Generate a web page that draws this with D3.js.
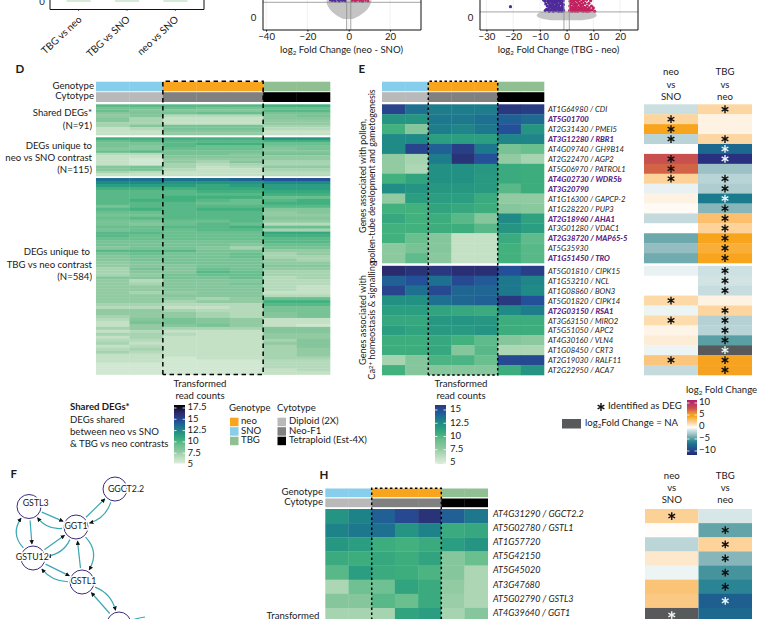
<!DOCTYPE html>
<html><head><meta charset="utf-8">
<script src="https://cdn.jsdelivr.net/npm/d3@7"></script>
<style>
html,body{margin:0;padding:0;background:#fff;overflow:hidden}
svg{display:block}
text{font-family:Lato,"Open Sans",sans-serif;fill:#1a1a1a}
</style></head><body><div id="c"></div>
<script>
// ---------- DATA ----------
const samples=['SNO1','SNO2','neo1','neo2','neo3','TBG1','TBG2'];
const sampleGenotype=['SNO','SNO','neo','neo','neo','TBG','TBG'];
const sampleCytotype=['Diploid (2X)','Diploid (2X)','Neo-F1','Neo-F1','Neo-F1','Tetraploid (Est-4X)','Tetraploid (Est-4X)'];
const genotypeNames=['neo','SNO','TBG'];
const cytotypeNames=['Diploid (2X)','Neo-F1','Tetraploid (Est-4X)'];
const countTicksD=[5,7.5,10,12.5,15,17.5];
const countTicksE=[5,7.5,10,12.5,15];
const fcTicks=[-10,-5,0,5,10];

const dShared=[
[9.5,9.5,9.5,9.5,9.5,10,10],[8.5,8.5,9,8.5,8.5,9,9],[9,8,8,8,8,9.5,9.5],[8,8.3,8.5,9,9,8.5,8.5],
[7.5,8,6.5,6.5,6.5,8,8.5],[8,7,6,6,6,8,8],[8,7,6,6,6,7.5,7.5],[7,7,6,6,6,7.5,7.5],
[7,8,8.5,8.5,8.5,7,7],[6,6.5,8.5,8.5,8.5,6.5,6.5],[6,6,8,8,8,6,6],[6,6,7.5,7.5,7.5,6,6]];
const dNeoSno=[
[10,10,10,10,10,11.5,11.5],[9,9.5,9.5,9.5,9.5,10,10],[8.5,8.5,9.5,10,10,9,9],[8.5,8,9.5,9,9,8.5,8.5],
[8,8,9,9,9,8,8.5],[9,9.5,8.5,8.5,8.5,8,8],[6.5,6.5,8.5,8.5,8,8.5,8.5],[6,6,8,8,8,7.5,7.5],
[6,5.5,7.5,7.5,7.5,7.5,7.5],[6,5.5,7.5,7,8,7,7],[6,5.5,7,6.5,7,7,7],[8,8.5,7,6,6.5,7.5,7.5],
[8,8.5,6.5,6,6,7,7],[7,6.5,6,6,6,6.5,6.5],[6,6,6,6,6,6.5,6.5]];
const dTbgNeo=[
[13,13,13,13,13.5,14,14],[12,12,11.5,11.5,11.5,12,12],[11,11,11,10.5,11,11,11],[10,10,10,10.5,10.5,11,11],
[9.5,9.5,9.5,10,10,10.5,10.5],[9.5,9.5,9.5,9.5,9.5,10,10],[9.5,9.5,10,10,10,9,9],[9.5,10,10,9.5,9,9.5,10],
[9.5,9.5,9.5,9,9,10,10],[8.5,9.5,9.5,9.5,9.5,9.5,9.5],[9.5,10,9.5,10,10,8,8],[9,9,9.5,9.5,9.5,7.5,8],
[8.5,8.5,9.5,9.5,9.5,7.5,7.5],[9,9.5,9.5,9.5,9.5,8,8],[8.5,8.5,9,9,9.5,7.5,7.5],[8.5,8,9,9.5,9,6.5,6.5],
[9,9,9.5,9.5,10,9,9],[8.5,9,9,9.5,9.5,7,7],[9.5,9.5,9,9,9,10.5,10.5],[9.5,9,9,9,9,10,10],
[9,9,9,9,9,9.5,9.5],[8.5,8.5,8.5,8.5,8.5,9.5,9.5],[8.5,8.5,8.5,8.5,8,9,9],[8,8.5,8.5,8,7,8.5,8.5],
[9.5,9.5,9.5,8.5,8.5,7.5,7.5],[8.5,9,8.5,8.5,9,7,7.5],[8,8.5,8.5,8.5,9,7,7],[8,8.5,8.5,8.5,8.5,7.5,7],
[7.5,8,8.5,8.5,8.5,7.5,7.5],[7.5,8,8,8.5,8.5,8,8],[7,8.5,8,9,8.5,7.5,7.5],[7,8,8,9.5,9,7,7],
[7,7.5,8.5,9,9,7,7],[8,8,8.5,8.5,9,6.5,7],[7.5,6.5,8,8,8,6.5,6.5],[7.5,7,8,8,8.5,6.5,6.5],
[7.5,7.5,8,8,8,6.5,6],[7.5,7.5,8,8,8,6.5,6],[7.5,7,7.5,8,8,6,6],[7.5,7.5,8,8,8,6.5,6.5],
[7.5,7.5,7.5,7,7.5,9,9],[7.5,7.5,7,7.5,7.5,10,10],[7,7,6.5,6.5,6.5,9.5,9.5],[6.5,6.5,6,6,6.5,8.5,8.5],
[7.5,7.5,7,6.5,6.5,8.5,8.5],[7.5,7.5,7.5,7,6.5,8,8.5],[7,7.5,7.5,7,6.5,8,8.5],[6.5,8,8.5,8,7.5,6,6],
[6,8.5,8.5,8,7.5,6,6],[6,7.5,8,8.5,7.5,6,5.5],[7,7.5,7,7,7,8,8],[6,6.5,6,6,6,8,8],
[7,7,6.5,6,6,7.5,7.5],[6,7,6,6,6,7.5,7.5],[6.5,6.5,6,6,6,7,8],[7,6,6,6,6,7.5,8],
[6,6.5,6,6,6,7,8],[6.5,7,6,6,6,7,7.5],[7,6.5,6,6,6,7,7.5],[6,6,6,6,6,7,7.5],
[6,6,5.5,6,6,7,7],[6,6,5.5,5.5,5.5,6.5,6.5],[5.5,5.5,5.5,5.5,5.5,6.5,6.5],[5.5,5.5,5.5,5.5,5.5,6.5,6.5],
[5.5,5.5,5.5,5.5,5.5,6,6.5],[5.5,5.5,5.5,5.5,5.5,6,6]];

const genesPollen=['AT1G64980 / CDI','AT5G01700','AT2G31430 / PMEI5','AT3G12280 / RBR1','AT4G09740 / GH9B14','AT2G22470 / AGP2','AT5G06970 / PATROL1','AT4G02730 / WDR5b','AT3G20790','AT1G16300 / GAPCP-2','AT1G28220 / PUP3','AT2G18960 / AHA1','AT3G01280 / VDAC1','AT2G38720 / MAP65-5','AT5G35930','AT1G51450 / TRO'];
const genesCalcium=['AT5G01810 / CIPK15','AT1G53210 / NCL','AT1G08860 / BON3','AT5G01820 / CIPK14','AT2G03150 / RSA1','AT3G63150 / MIRO2','AT5G51050 / APC2','AT4G30160 / VLN4','AT1G08450 / CRT3','AT2G19030 / RALF11','AT2G22950 / ACA7'];
const genesGsh=['AT4G31290 / GGCT2.2','AT5G02780 / GSTL1','AT1G57720','AT5G42150','AT5G45020','AT3G47680','AT5G02790 / GSTL3','AT4G39640 / GGT1'];
const boldGenes=['AT5G01700','AT3G12280 / RBR1','AT4G02730 / WDR5b','AT3G20790','AT2G18960 / AHA1','AT2G38720 / MAP65-5','AT1G51450 / TRO','AT2G03150 / RSA1'];

const ePollen=[
[14.5,13,12.5,12.5,12.5,15,14.8],[11.5,11.5,12.7,12.7,13,13.5,13.2],[10,8,12.5,12.2,12.7,14,11.5],[12,12,11,11,11,12.2,12.2],
[12,14.5,13.5,14.7,12.7,8.5,9],[7.5,7,12.5,15.3,14,7.5,7],[7.5,6.8,11.7,11.7,11.3,10.3,10.2],[10,10.7,11.7,11.7,11.2,10.3,10.2],
[11.8,11.5,11.3,11.3,11.2,9.5,10.2],[7.5,11,11,11,10.3,7.5,7.5],[10,10,10.7,10.5,10.2,8,7.8],[10.5,10,10.2,9.5,8,12,10.8],
[10,10,10.2,10.2,9.5,11.5,11],[10,9,8,6,6,10.3,9.3],[7.7,8.5,8,6,6,10,9.5],[7.7,9.3,7.8,6,6,10,9.5]];
const eCalcium=[
[15.7,15.3,15,15.5,15.5,14,14.7],[13.5,14,13,14.3,13.7,12.7,12.2],[14.5,13,14.3,13.3,13.3,12.7,12],[11.7,11.7,13,13.3,13.5,15,14],
[11,11,10.7,10.5,10.3,12,12.5],[10.5,10.5,11.3,11.5,11.3,10.2,10.2],[11,10.7,11.2,11.2,11.5,10.2,10.2],[10.2,10.2,10.5,10,9.3,8,7.7],
[10.2,10.2,10.5,8,9.5,6.8,6.8],[7,8,9.8,9.8,9,14.3,14.3],[10,8,8,8,8,10.2,11.5]];
const hCounts=[
[11.5,12.3,13.5,14.3,15.3,13.5,12.7],[12.3,12.7,13,11.5,12.3,10.3,10.5],[11.3,11,10.2,10,10.3,11,11.5],[10.3,10.2,10.5,10.2,10.7,8,9],
[9.5,11,10.3,10.2,9.8,8,6.8],[6.8,8.8,8.8,10.7,10.3,7.5,6.8],[8,8,9.5,9,10.3,7.3,6.8],[7,7,7,10.7,11,7,8]];

const contrasts=['neo vs SNO','TBG vs neo'];
const fcPollen=[[-1.2,1.6],[1.7,.5],[4,.5],[-1.7,1.6],[0,-6.5],[7,-9.5],[6.5,-2.5],[1.8,-1.7],[-.5,-2],[.5,-5.5],[.2,-3],[-1.4,2.8],[0,1.8],[-3.6,4],[-2.7,3.6],[-3.5,4]];
const fcCalcium=[[-.5,-1.1],[0,-1],[0,-1.3],[1.5,.5],[-.4,1.7],[1.4,-1.8],[.4,-1.7],[.7,-4],[-.4,null],[2.5,4.2],[-1.4,4.3]];
const fcGsh=[[1.9,-.9],[.1,-3.8],[-1.6,1.8],[.9,-3],[-.4,-4.5],[2.6,-5.1],[2.3,-7],[null,-6.5]];
const degPollen=[[0,1],[1,0],[1,0],[1,1],[0,1],[1,1],[1,0],[1,1],[0,1],[0,1],[0,1],[0,1],[0,1],[0,1],[0,1],[0,1]];
const degCalcium=[[0,1],[0,1],[0,1],[1,0],[0,1],[1,1],[0,1],[0,1],[0,1],[1,1],[0,1]];
const degGsh=[[1,0],[0,1],[0,1],[0,1],[0,1],[0,1],[0,1],[1,0]];

const volcanoCategories=['TBG vs neo','TBG vs SNO','neo vs SNO'];
const volcano1Ticks=[-40,-20,0,20];
const volcano2Ticks=[-30,-20,-10,0,10,20];
// grey envelope: [-log10 p, lowest fold change, highest fold change]
const v1Grey=[[0.1,-2.5,2],[0.4,-6.5,6],[0.8,-9.5,9.5],[1.3,-11,11],[1.45,-10.5,11]];
const v2Grey=[[0.05,-6,6],[0.2,-9,9],[0.5,-11,11],[0.9,-11.5,11.5],[1.3,-9.5,10]];
const v1Down=[[-8,1.4],[-7,1.42],[-6.5,1.38],[-5.3,1.45],[-4.6,1.36],[-4,1.44],[-3,1.4],[-2.3,1.46],[-1.6,1.38],[-9,1.44],[-3.6,1.5]];
const v1Up=[[1.5,1.4],[2.4,1.45],[3.2,1.38],[4,1.44],[5.2,1.4],[5.9,1.46],[7,1.38],[8.2,1.42],[9.4,1.38],[3,1.5],[6.4,1.36]];
const v2Down=[[-21,2.1],[-8.6,3.1],[-8,2.9],[-7.8,2.5],[-8,1.5],[-7.5,1.7],[-7.2,2.2],[-7,3],[-6.8,2.7],[-6.6,1.9],[-6.5,1.4],[-6.3,2.4],[-6,3.1],[-6,2.1],[-5.8,1.6],[-5.5,2.8],[-5.4,1.9],[-5.2,2.4],[-5,3.2],[-5,1.4],[-4.8,2.1],[-4.6,2.7],[-4.4,1.7],[-4.2,3],[-4.1,2.3],[-4,1.5],[-3.8,2],[-3.6,2.6],[-3.4,3.2],[-3.3,1.8],[-3.1,2.3],[-3,1.4],[-2.8,2.9],[-2.7,2],[-2.5,1.6],[-2.4,2.5],[-2.2,3.1],[-2,1.9],[-1.9,1.4],[-1.8,2.6],[-1.6,2.2],[-1.5,1.7],[-1.3,3],[-1.2,2.4],[-1.1,1.5],[-5.7,2.4],[-4.7,1.7],[-3.5,2.9],[-6.9,1.6],[-2.1,2.7],[-1.4,1.9],[-3.9,2.8],[-4.9,3],[-6.2,2.9]];
const v2Up=[[1.1,1.5],[1.2,2.2],[1.3,2.9],[1.5,1.8],[1.6,2.5],[1.8,3.2],[1.9,1.4],[2.1,2],[2.2,2.8],[2.4,1.6],[2.6,2.4],[2.7,3],[2.9,1.9],[3.1,1.4],[3.2,2.6],[3.4,2.1],[3.6,3.1],[3.7,1.7],[3.9,2.4],[4.1,1.4],[4.2,2.9],[4.4,2],[4.6,1.6],[4.8,2.6],[4.9,3.2],[5.1,1.9],[5.3,2.3],[5.4,1.5],[5.6,2.8],[5.8,1.8],[6,2.4],[6.2,1.4],[6.3,3],[6.5,2],[6.7,1.6],[6.9,2.6],[7.1,1.9],[7.3,1.4],[7.5,3.1],[7.7,2.2],[7.9,1.7],[8.1,1.4],[8.3,2.6],[8.5,1.9],[8.8,1.5],[9,3],[9.3,2.2],[9.6,1.6],[10,1.9],[10.5,1.4],[2.3,1.5],[3,2.3],[4.5,1.5],[5.5,2],[2,3.3],[3.3,1.7]];

const networkNodes=['GGCT2.2','GSTL3','GGT1','GSTU12','GSTL1',''];
const networkEdges=[
['GSTL3','GGT1',0],['GGT1','GSTL3',-9],['GSTL3','GSTU12',0],['GSTU12','GSTL3',-13],
['GSTU12','GGT1',0],['GGT1','GSTU12',-9],['GGT1','GGCT2.2',0],['GGCT2.2','GGT1',-9],
['GSTU12','GSTL1',0],['GSTL1','GSTU12',-8],['GSTL1','GGT1',0],['GGT1','GSTL1',-13],
['GSTL1','',-9],['','GSTL1',0]];

// ---------- LAYOUT (pixels) ----------
const svg=d3.select('#c').append('svg').attr('width',768).attr('height',619).attr('viewBox','0 0 768 619');
const COL={SNO:'#87cdec',neo:'#f8a51d',TBG:'#90bf91','Diploid (2X)':'#b9b9b9','Neo-F1':'#808080','Tetraploid (Est-4X)':'#000'};
const countColor=d3.scaleLinear()
 .domain([5,6,7,7.5,9,9.5,10,11,12,13,14,15,16,17.5])
 .range(['#dcecdb','#c4e1c6','#a6d3b0','#92caa2','#6abf8f','#58b888','#42b17e','#2b9d80','#1f8a86','#1d7090','#24509a','#29387f','#2a2668','#000']);
const fcColor=d3.scaleLinear()
 .domain([-10,-9.5,-7,-5.5,-4,-2.5,-1,0,1.5,2.8,4,5,7,10])
 .range(['#1f2a6e','#29307f','#1f5f8f','#1a7a8e','#5a9fa3','#9cc2c6','#d2e3e4','#ffffff','#fdd9a8','#fbbf6d','#f8a51d','#f29a2a','#c8504f','#b01e6e']);

function txt(g,x,y,s,o={}){
  const t=g.append('text').attr('x',x).attr('y',y).attr('dominant-baseline','middle')
   .attr('font-size',o.size||9.6).attr('text-anchor',o.anchor||'start').text(s);
  if(o.bold)t.attr('font-weight',o.bold===true?700:o.bold);
  if(o.italic)t.attr('font-style','italic');
  if(o.fill)t.style('fill',o.fill);
  if(o.rot!=null)t.attr('transform',`rotate(${o.rot} ${x} ${y})`);
  return t;
}
function log2(g,x,y,rest,o={}){ // log2 text with subscript
  const t=g.append('text').attr('x',x).attr('y',y).attr('dominant-baseline','middle')
   .attr('font-size',o.size||9.6).attr('text-anchor',o.anchor||'start');
  t.append('tspan').text('log');
  t.append('tspan').attr('dy',2).attr('font-size',(o.size||9.6)*.65).text('2');
  t.append('tspan').attr('dy',-2).text(rest);
}
function headers(g,x,yGeno,yCyto,h1,h2){
  g.selectAll(null).data(samples).join('rect').attr('x',d=>x(d)).attr('y',yGeno).attr('width',x.bandwidth()+.3).attr('height',h1)
   .attr('fill',(d,i)=>COL[sampleGenotype[i]]);
  g.selectAll(null).data(samples).join('rect').attr('x',d=>x(d)).attr('y',yCyto).attr('width',x.bandwidth()+.3).attr('height',h2)
   .attr('fill',(d,i)=>COL[sampleCytotype[i]]);
}
function heat(g,x,rows,y0,y1){
  const y=d3.scaleBand(d3.range(rows.length),[y0,y1]);
  rows.forEach((r,i)=>{
    g.selectAll(null).data(r).join('rect').attr('x',(d,j)=>x(samples[j])).attr('y',y(i))
     .attr('width',x.bandwidth()+.3).attr('height',y.bandwidth()+.3).attr('fill',d=>countColor(d));
  });
  return y;
}
function dashed(g,x,y0,y1,w=1.5,dash='4.5 3.5'){
  const x0=x('neo1'),x1=x('neo3')+x.bandwidth();
  g.append('path').attr('d',`M${x0},${y1}V${y0}H${x1}V${y1}`+(y1<619?`H${x0}`:''))
   .attr('fill','none').attr('stroke','#000').attr('stroke-width',w).attr('stroke-dasharray',dash);
}
function star(g,x,y,fill,r=42){
  g.append('path').attr('d',d3.symbol(d3.symbolAsterisk,r)).attr('transform',`translate(${x},${y})`)
   .attr('fill','none').attr('stroke',fill).attr('stroke-width',1.4);
}
function fcHeat(g,x,y,vals,degs){
  vals.forEach((r,i)=>{
    contrasts.forEach((c,j)=>{
      const v=r[j];
      g.append('rect').attr('x',x(c)).attr('y',y(i)).attr('width',x.bandwidth()).attr('height',y.bandwidth()+.3)
       .attr('fill',v==null?'#58595b':fcColor(v));
      if(degs[i][j]) star(g,x(c)+x.bandwidth()/2,y(i)+y.bandwidth()/2,(v==null||v<-5.2)?'#e8f2f4':'#111');
    });
  });
}
function geneLabels(g,xp,y,genes,size,dy){
  genes.forEach((s,i)=>{
    const b=boldGenes.includes(s);
    txt(g,xp,y(i)+y.bandwidth()/2+dy,s,{size:size,italic:true,bold:b?900:false,fill:b?'#5a2a86':'#222'});
  });
}
function colorBar(g,id,color,dom,x0,w,y0,y1,ticks,ys,fmt,lx,size){
  const gr=svg.append('defs').append('linearGradient').attr('id',id).attr('x1',0).attr('x2',0).attr('y1',1).attr('y2',0);
  d3.range(0,21).forEach(i=>{const v=dom[0]+(dom[1]-dom[0])*i/20;
    gr.append('stop').attr('offset',(i/20*100)+'%').attr('stop-color',color(v));});
  g.append('rect').attr('x',x0).attr('y',y0).attr('width',w).attr('height',y1-y0).attr('fill',`url(#${id})`);
  ticks.forEach(t=>{
    g.append('line').attr('x1',x0).attr('x2',x0+2.5).attr('y1',ys(t)).attr('y2',ys(t)).attr('stroke','#fff').attr('stroke-width',.8);
    g.append('line').attr('x1',x0+w-2.5).attr('x2',x0+w).attr('y1',ys(t)).attr('y2',ys(t)).attr('stroke','#fff').attr('stroke-width',.8);
    txt(g,lx,ys(t),fmt(t),{size:size});
  });
}
const minus=t=>String(t).replace('-','\u2212');

// ---------- TOP FRAGMENTS ----------
const topG=svg.append('g');
const bx=d3.scaleBand(volcanoCategories,[50,204]).paddingInner(.5).paddingOuter(.34);
topG.selectAll(null).data(volcanoCategories).join('rect').attr('x',d=>bx(d)).attr('y',-3).attr('width',bx.bandwidth()).attr('height',5).attr('fill','#d6ead6');
topG.append('path').attr('d','M50,-2V9.5H204V-2').attr('fill','none').attr('stroke','#111').attr('stroke-width',1);
volcanoCategories.forEach(c=>{
  const xc=bx(c)+bx.bandwidth()/2;
  topG.append('line').attr('x1',xc).attr('x2',xc).attr('y1',9.5).attr('y2',11).attr('stroke','#333').attr('stroke-width',.7);
  txt(topG,xc+2,18.5,c,{anchor:'end',rot:-43,size:10});
});
txt(topG,42,2.5,'0',{anchor:'middle',size:9.6});

function volcano(opts){
  const g=svg.append('g');
  const x=d3.scaleLinear(opts.xd,opts.xr);
  const y=d3.scaleLinear([0,opts.yMax],[20.5,20.5-opts.yMax*opts.k]);
  const [l,r]=opts.xr;
  const clip='c'+opts.id;
  svg.append('defs').append('clipPath').attr('id',clip).append('rect').attr('x',l).attr('y',0).attr('width',r-l).attr('height',30);
  const inner=g.append('g').attr('clip-path',`url(#${clip})`);
  opts.ticks.forEach(t=>inner.append('line').attr('x1',x(t)).attr('x2',x(t)).attr('y1',0).attr('y2',30).attr('stroke','#eeeeee').attr('stroke-width',.8));
  inner.append('path').datum(opts.grey).attr('fill','#c4c4c4')
    .attr('d',d3.area().y(d=>y(d[0])).x0(d=>x(d[1])).x1(d=>x(d[2])).curve(d3.curveBasis));
  inner.selectAll(null).data(opts.down).join('circle').attr('cx',d=>x(d[0])).attr('cy',d=>y(d[1])).attr('r',opts.dot).attr('fill','#4f2a9a');
  inner.selectAll(null).data(opts.up).join('circle').attr('cx',d=>x(d[0])).attr('cy',d=>y(d[1])).attr('r',opts.dot).attr('fill','#c2205f');
  [opts.thresh].forEach(v=>inner.append('line').attr('x1',l).attr('x2',r).attr('y1',y(v)).attr('y2',y(v)).attr('stroke','#8d8d8d').attr('stroke-width',.8));
  [-1,1].forEach(v=>inner.append('line').attr('x1',x(v)).attr('x2',x(v)).attr('y1',0).attr('y2',30).attr('stroke','#8d8d8d').attr('stroke-width',.8));
  g.append('path').attr('d',`M${l},-2V30H${r}V-2`).attr('fill','none').attr('stroke','#111').attr('stroke-width',1);
  const ax=g.append('g').attr('transform','translate(0,30)').call(d3.axisBottom(x).tickValues(opts.ticks).tickFormat(minus).tickSize(1.5).tickPadding(1.5));
  ax.select('.domain').remove();
  ax.selectAll('text').attr('font-size',9.6).style('font-family','Lato,sans-serif');
  txt(g,l-9.5,19,'0',{anchor:'middle',size:9.6});
  log2(g,(opts.tc),50.5,opts.title,{anchor:'middle',size:9.6});
}
volcano({id:'v1',xd:[-41.5,35],xr:[263,421],ticks:volcano1Ticks,grey:v1Grey,down:v1Down,up:v1Up,thresh:1.3,yMax:2,k:14,dot:1.2,title:' Fold Change (neo - SNO)',tc:341.5});
volcano({id:'v2',xd:[-32.4,26.7],xr:[480,638],ticks:volcano2Ticks,grey:v2Grey,down:v2Down,up:v2Up,thresh:1.3,yMax:4,k:6.6,dot:1.6,title:' Fold Change (TBG - neo)',tc:558.5});

// ---------- PANEL D ----------
const D=svg.append('g');
txt(D,15.5,70,'D',{bold:true,size:11.5});
const xD=d3.scaleBand(samples,[96,330]);
headers(D,xD,81.7,92.2,9.6,9.8);
heat(D,xD,dShared,104.3,135);
heat(D,xD,dNeoSno,137.3,176);
heat(D,xD,dTbgNeo,178,374.5);
dashed(D,xD,81.2,374.5);
txt(D,94,86.5,'Genotype',{anchor:'end'});
txt(D,94,96.8,'Cytotype',{anchor:'end'});
txt(D,92,114,'Shared DEGs*',{anchor:'end'});
txt(D,92,126.5,'(N=91)',{anchor:'end'});
txt(D,92,146.5,'DEGs unique to',{anchor:'end'});
txt(D,92,159,'neo vs SNO contrast',{anchor:'end'});
txt(D,92,171,'(N=115)',{anchor:'end'});
txt(D,90,253,'DEGs unique to',{anchor:'end'});
txt(D,92,265.5,'TBG vs neo contrast',{anchor:'end'});
txt(D,92,277.5,'(N=584)',{anchor:'end'});

// legend D
const LD=svg.append('g');
txt(LD,200,385,'Transformed',{anchor:'middle'});
txt(LD,200,397,'read counts',{anchor:'middle'});
txt(LD,70,408,'Shared  DEGs*',{bold:true});
txt(LD,70,420.3,'DEGs shared');
txt(LD,70,432.7,'between neo vs SNO');
txt(LD,70,445,'& TBG vs neo contrasts');
colorBar(LD,'gd',countColor,[5,17.5],174,11,405,463.5,countTicksD,d3.scaleLinear([5,17.5],[464.5,408]),t=>String(t),187.5,9.6);
txt(LD,229,409,'Genotype');
genotypeNames.forEach((n,i)=>{
  LD.append('rect').attr('x',230).attr('y',417.7+i*9.5).attr('width',8.5).attr('height',8.5).attr('fill',COL[n]);
  txt(LD,241,421.9+i*9.5,n);
});
txt(LD,277,409,'Cytotype');
cytotypeNames.forEach((n,i)=>{
  LD.append('rect').attr('x',277.5).attr('y',417.7+i*9.5).attr('width',8.5).attr('height',8.5).attr('fill',COL[n]);
  txt(LD,289,421.9+i*9.5,n);
});

// ---------- PANEL E ----------
const E=svg.append('g');
txt(E,358.5,70,'E',{bold:true,size:11.5});
const xE=d3.scaleBand(samples,[382,544]);
headers(E,xE,81.7,92.2,9.6,9.8);
const yP=heat(E,xE,ePollen,104.3,263);
const yC=heat(E,xE,eCalcium,265.8,375);
dashed(E,xE,81.2,375,1.5,'2.5 2.5');
txt(E,363.5,176,'Genes associated with pollen,',{anchor:'middle',rot:-90,size:8.8});
txt(E,372.5,176,'pollen-tube development and gametogenesis',{anchor:'middle',rot:-90,size:8.8});
txt(E,363.5,320,'Genes associated with',{anchor:'middle',rot:-90,size:9.2});
{const t=E.append('text').attr('transform','translate(372.5,320.5) rotate(-90)').attr('text-anchor','middle').attr('dominant-baseline','middle').attr('font-size',9.2);
 t.append('tspan').text('Ca');t.append('tspan').attr('dy',-2).attr('font-size',6).text('2+');t.append('tspan').attr('dy',2).text(' homeostasis & signalling');}
geneLabels(E,548,yP,genesPollen,7.7,1.2);
geneLabels(E,548,yC,genesCalcium,7.7,1.2);
const xF=d3.scaleBand(contrasts,[644,752]);
fcHeat(E,xF,yP,fcPollen,degPollen);
fcHeat(E,xF,yC,fcCalcium,degCalcium);
[['neo','vs','SNO'],['TBG','vs','neo']].forEach((ls,j)=>ls.forEach((s,i)=>txt(E,xF(contrasts[j])+xF.bandwidth()/2,73+i*12.2,s,{anchor:'middle',size:9.6})));

// legend E
const LE=svg.append('g');
txt(LE,461,385,'Transformed',{anchor:'middle'});
txt(LE,461,397,'read counts',{anchor:'middle'});
colorBar(LE,'ge',countColor,[5,15],435,11,405,464,countTicksE,d3.scaleLinear([5,15],[463,410]),t=>String(t),450,9.6);
log2(LE,686,391,' Fold Change');
colorBar(LE,'gf',fcColor,[-10,10],687,10,400,455,fcTicks,d3.scaleLinear([-10,10],[451,403]),minus,699,9.6);
star(LE,601,407,'#111',42);
txt(LE,608,407,'Identified as DEG');
LE.append('rect').attr('x',562).attr('y',419).attr('width',19).attr('height',9.5).attr('fill','#58595b');
log2(LE,585,424,'Fold Change = NA');

// ---------- PANEL F ----------
const F=svg.append('g');
txt(F,10.5,475.5,'F',{bold:true,size:11.5});
const netLayout={ 'GGCT2.2':[115,489],'GSTL3':[29,506.5],'GGT1':[76,527],'GSTU12':[33,558],'GSTL1':[82,582],'':[119,624] };
const labelCenter={ 'GGCT2.2':[126,489.3],'GSTL3':[35.7,503.5],'GGT1':[76,526.7],'GSTU12':[32.3,557.7],'GSTL1':[83.4,581.7] };
const nx=d3.scaleLinear([0,1],[0,1]),ny=d3.scaleLinear([0,1],[0,1]);
F.append('defs').html('<marker id="arr" viewBox="0 0 10 10" refX="9" refY="5" markerWidth="4.4" markerHeight="4.4" orient="auto-start-reverse" markerUnits="userSpaceOnUse"><path d="M0,0L10,5L0,10z" fill="#111"/></marker>');
networkEdges.forEach(([a,b,bend])=>{
  const [ax,ay]=netLayout[a].map((v,i)=>i?ny(v):nx(v)),[bx2,by]=netLayout[b].map((v,i)=>i?ny(v):nx(v));
  const mx=(ax+bx2)/2,my=(ay+by)/2,dx=bx2-ax,dy=by-ay,L=Math.hypot(dx,dy);
  const cx=mx+(-dy/L)*bend*1.6,cy=my+(dx/L)*bend*1.6;
  const r=14;
  const trim=(px,py,qx,qy,rr)=>{const d=Math.hypot(qx-px,qy-py);return [px+(qx-px)/d*rr,py+(qy-py)/d*rr];};
  const s=trim(ax,ay,bend?cx:bx2,bend?cy:by,r),e=trim(bx2,by,bend?cx:ax,bend?cy:ay,r);
  const p=d3.path();p.moveTo(s[0],s[1]);
  if(bend)p.quadraticCurveTo(cx,cy,e[0],e[1]);else p.lineTo(e[0],e[1]);
  F.append('path').attr('d',p.toString()).attr('fill','none').attr('stroke','#3aa8b4').attr('stroke-width',1.2).attr('marker-end','url(#arr)');
});
F.append('path').attr('d',d3.line().curve(d3.curveBasis)([[128,622],[136,618.5],[145,617]])).attr('fill','none').attr('stroke','#3aa8b4').attr('stroke-width',1.2);
networkNodes.forEach(n=>{
  const [cx,cy]=netLayout[n];
  F.append('circle').attr('cx',nx(cx)).attr('cy',ny(cy)).attr('r',12).attr('fill','none').attr('stroke','#3d2a7a').attr('stroke-width',1);
});
networkNodes.filter(n=>n).forEach(n=>{
  const [lx,ly]=labelCenter[n];
  txt(F,nx(lx),ny(ly),n,{anchor:'middle',size:8.8}).attr('stroke','#fff').attr('stroke-width',3).attr('paint-order','stroke');
});

// ---------- PANEL H ----------
const H=svg.append('g');
txt(H,319.5,476,'H',{bold:true,size:11.5});
const xH=d3.scaleBand(samples,[325.3,487.7]);
headers(H,xH,488.5,498.5,8.7,8.7);
const yH=d3.scaleBand(d3.range(genesGsh.length),[509,622.1]);
heat(H,xH,hCounts,509,622.1);
dashed(H,xH,488.2,640,1.5,'2.5 2.5');
txt(H,323,493,'Genotype',{anchor:'end'});
txt(H,323,502.5,'Cytotype',{anchor:'end'});
geneLabels(H,493,yH,genesGsh,9,-1.5);
txt(H,293,617,'Transformed',{anchor:'middle'});
const xF2=d3.scaleBand(contrasts,[645,752]);
fcHeat(H,xF2,yH,fcGsh,degGsh);
[['neo','vs','SNO'],['TBG','vs','neo']].forEach((ls,j)=>ls.forEach((s,i)=>txt(H,xF2(contrasts[j])+xF2.bandwidth()/2,477+i*12,s,{anchor:'middle',size:9.6})));
</script></body></html>
